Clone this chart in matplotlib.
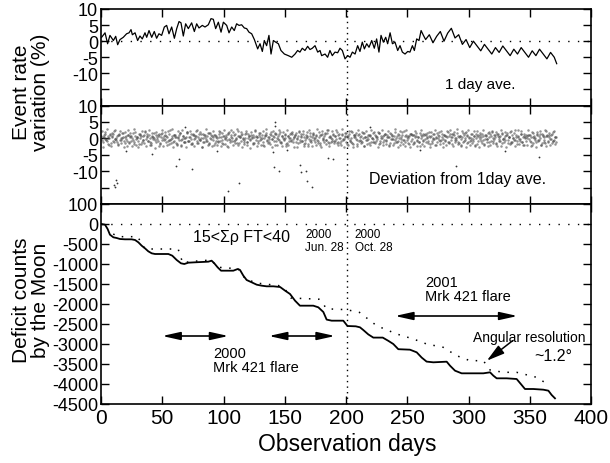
import numpy as np
import matplotlib
matplotlib.use('Agg')
import matplotlib.pyplot as plt

plt.rcParams['font.family'] = ['Liberation Sans', 'DejaVu Sans']

# ---------------- data ----------------
# Top panel: 1 day average event-rate variation (%)
top_days = [0.5,3.3,5.4,7.3,10.1,12.0,13.6,15.5,18.2,20.9,22.9,24.5,25.6,27.8,29.9,31.8,33.7,35.9,37.3,39.2,
            41.4,43.5,45.4,47.3,49.5,51.7,53.6,55.5,57.7,59.9,61.8,63.7,65.3,67.2,69.1,71.3,74.0,76.2,78.1,80.0,
            82.7,84.9,87.6,89.8,91.7,93.6,95.8,98.0,99.9,102.6,104.5,106.7,108.8,110.7,112.7,114.8,117.0,118.9,120.8,123.0,125.2,
            127.9,129.8,131.7,133.3,135.2,137.1,138.8,140.7,142.6,144.8,146.9,149.7,152.9,155.7,158.4,160.5,162.4,164.3,166.5,168.7,
            170.6,172.5,174.7,176.9,178.8,180.1,182.9,185.0,186.9,188.8,191.0,193.2,195.1,197.0,199.2,201.4,203.3,205.2,207.4,209.5,
            211.4,213.3,215.0,216.9,218.8,221.0,223.1,225.0,226.9,228.6,230.5,232.4,234.0,236.0,237.9,240.0,242.2,244.1,246.0,248.2,
            250.4,252.2,254.2,255.8,257.7,259.6,261.3,263.2,
            265,268,271,274,277,280,283,286,289,292,295,298,301,304,307,310,313,316,319,322,325,328,331,334,337,340,
            343,346,349,352,355,358,361,364,367,370,372]
top_vals = [1.2,2.6,-0.8,1.8,0.2,1.5,-1.1,0.5,1.2,2.3,2.6,3.6,2.0,2.6,0.2,1.6,0.7,2.6,1.2,3.3,
            1.2,3.0,0.9,2.3,1.8,4.4,4.9,2.3,4.4,0.9,3.9,6.1,5.7,1.6,5.4,3.9,5.7,3.0,5.4,4.1,
            4.9,4.4,5.1,7.0,6.8,3.9,5.9,2.8,5.9,4.9,2.6,4.4,3.3,5.4,4.9,5.1,4.1,3.9,2.8,2.3,0.5,
            -2.4,-0.8,-3.2,0.2,-1.4,1.8,-4.0,0.2,-0.3,-0.8,-2.9,-4.0,-4.5,-5.0,-4.0,-2.9,-3.4,-2.2,-2.9,-1.6,
            -2.6,-2.2,-1.4,-3.4,-2.9,-4.5,-4.0,-5.0,-2.9,-4.5,-3.4,-3.6,-2.2,-2.9,-5.5,-4.5,-5.0,-3.4,-4.0,-1.4,
            -3.2,-0.3,-2.4,-0.8,-1.9,0.2,-2.2,0.7,-3.4,1.8,-0.3,1.2,-0.8,2.6,-0.8,-0.3,-2.9,-1.4,-3.4,-4.0,
            -3.2,-3.4,-1.4,-2.9,0.7,0.2,3.3,1.8,
            0.5,2.0,-0.5,1.5,3.0,0.0,2.5,4.0,1.0,2.0,-1.0,0.5,-2.0,0.0,-1.5,-3.0,-1.0,-2.5,-4.0,-2.0,-3.5,-1.5,-3.0,-4.5,-2.5,-4.0,
            -2.0,-3.5,-5.0,-3.0,-4.5,-2.5,-4.0,-5.5,-3.5,-5.0,-7.0]

# Middle panel: deviation of each run from the 1-day average (%)
dev_a = [0.8,-1.2,0.3,1.9,-0.6,0.1,-2.1,1.4,0.5,-0.9,2.3,-0.2,0.7,-1.6,1.1,-0.4,0.0,1.7,-1.3,0.6,-2.4,0.9,1.5,-0.7,0.2,-1.1,2.0,-0.3,0.4,-1.8,
 1.2,0.6,-0.5,-1.4,2.2,0.3,-0.8,1.0,-2.0,0.7,-0.1,1.6,-1.2,0.5,0.9,-2.3,1.3,-0.6,0.2,1.8,-1.0,0.4,-1.7,2.4,-0.3,0.8,-0.9,1.1,-1.5,0.0,
 -0.4,1.5,-2.2,0.6,0.1,-1.0,1.9,-0.7,0.3,1.2,-1.8,0.9,-0.2,2.1,-1.4,0.5,-0.6,1.3,-2.5,0.2,1.0,-0.8,0.7,-1.3,1.7,-0.1,0.4,-1.9,1.1,0.6,
 -1.1,0.3,2.0,-0.5,-1.6,0.8,0.2,-2.2,1.4,-0.3,0.9,-0.9,1.8,-0.4,0.1,-1.5,2.3,0.5,-0.7,1.2,-1.2,0.0,1.6,-2.0,0.7,-0.2,1.0,-1.7,0.4,2.2,
 0.3,-1.4,1.1,-0.6,0.9,-2.1,0.2,1.5,-0.8,0.5,-1.0,1.9,-0.3,0.7,-1.9,1.2,0.1,-0.5,2.0,-1.3,0.6,-0.1,1.4,-2.4,0.8,-0.7,0.2,1.7,-1.1,0.4,
 1.0,-0.2,-1.5,2.1,0.4,-0.9,1.3,-1.7,0.0,0.8,-2.3,1.6,-0.5,0.3,1.1,-1.2,0.6,-0.4,1.8,-2.0,0.9,0.2,-1.0,1.4,-0.6,2.5,-1.4,0.5,-0.3,1.2,
 -0.8,0.7,1.9,-1.1,0.2,-2.0,1.0,-0.4,0.6,1.5,-1.6,0.1,-0.7,2.2,-1.3,0.4,0.9,-0.1,-1.8,1.3,0.5,-0.9,1.7,-2.2,0.3,-0.5,1.1,-1.4,0.8,0.0,
 1.6,-1.0,0.4,-0.3,2.0,-1.7,0.7,0.2,-1.2,1.2,-0.6,0.9,-2.1,1.5,-0.2,0.6,-1.5,1.9,0.1,-0.8,1.0,-1.9,0.5,-0.4,2.3,-1.1,0.3,0.8,-1.6,1.4,
 -0.1,0.9,-1.3,1.7,-0.7,0.4,-2.4,1.1,0.6,-0.5,1.4,-1.0,0.2,2.0,-1.6,0.7,-0.3,1.2,-2.0,0.5,0.0,1.8,-0.9,0.3,-1.4,1.0,-0.6,2.2,-1.2,0.8,
 0.5,-1.8,1.3,0.2,-0.6,1.6,-1.1,0.8,-2.2,0.4,1.0,-0.4,1.9,-1.5,0.1,-0.8,1.4,-0.2,0.6,-1.9,2.1,-0.7,0.3,1.1,-1.3,0.7,-2.0,0.9,-0.1,1.5,
 -1.2,0.6,2.0,-0.9,0.3,-1.6,1.2,-0.3,0.8,-2.3,1.7,0.1,-0.6,1.0,-1.4,0.5,1.8,-1.0,0.2,-0.5,2.4,-1.7,0.7,-0.2,1.3,-1.1,0.4,-2.1,0.9,0.0,
 1.1,-0.7,0.5,-1.9,1.6,0.2,-1.2,0.9,-0.4,1.4,-2.0,0.6,0.3,-1.5,2.2,-0.8,1.0,-0.1,-1.3,1.8,-0.6,0.4]
dev_b = [-0.5,0.4,1.1,-0.2,-0.9,0.7,0.0,-1.4,0.6,1.3,-0.3,0.2,-1.0,0.9,-0.6,0.1,1.5,-0.8,0.3,-0.1,1.0,-1.2,0.5,0.8,-0.4,-1.6,0.7,0.2,-0.7,1.2,
 0.1,-1.1,0.6,0.9,-0.3,1.4,-0.8,0.0,-1.5,0.5,0.3,-0.6,1.1,-0.2,0.8,-1.3,0.4,1.6,-0.5,-0.1,0.7,-0.9,1.2,-0.4,0.2,-1.0,0.9,0.5,-1.7,0.3,
 1.0,-0.4,-0.1,0.8,-1.2,0.3,1.7,-0.7,0.5,-0.2,-1.4,1.1,0.0,0.6,-0.8,1.3,-0.5,0.2,-1.1,0.9,0.4,-0.3,1.5,-1.6,0.1,0.7,-0.6,1.0,-0.9,0.2,
 -0.7,1.2,0.3,-1.3,0.6,-0.1,0.9,-0.5,1.6,-1.0,0.4,0.1,-0.8,1.3,-0.3,0.7,-1.5,0.5,1.0,-0.2,-0.6,1.4,-1.1,0.2,0.8,-0.4,0.0,1.1,-1.3,0.6,
 0.4,-0.9,1.5,-0.3,0.1,-1.2,0.7,1.0,-0.6,0.3,-1.7,0.9,-0.1,0.5,1.2,-0.8,-0.2,1.4,-1.0,0.6,0.0,-0.5,1.1,-1.4,0.8,0.2,-0.7,1.3,-0.3,0.5,
 -1.1,0.2,0.8,-0.4,1.3,-0.9,0.5,-1.5,1.0,0.3,-0.2,0.7,-1.2,1.6,-0.6,0.1,0.9,-0.8,0.4,-1.3,1.2,-0.1,0.6,-0.5,1.5,-1.0,0.3,0.0,-0.9,1.1,
 0.7,-0.3,-1.4,1.0,0.2,-0.7,1.4,-0.1,0.5,-1.1,0.8,1.2,-0.5,0.0,-1.6,0.9,0.3,-0.4,1.1,-0.8,0.6,-1.2,0.2,1.5,-0.6,0.4,-0.2,0.9,-1.0,0.1,
 -0.2,1.0,-0.8,0.4,1.6,-1.3,0.1,0.7,-0.5,1.2,-0.9,0.3,0.5,-1.4,1.1,-0.1,0.8,-0.6,-1.1,1.3,0.2,-0.3,0.9,-1.7,0.6,1.0,-0.4,0.0,1.4,-0.7,
 0.9,-1.2,0.3,0.6,-0.4,-1.0,1.5,0.1,-0.7,1.1,-0.2,0.4,-1.5,0.8,0.5,-0.9,1.3,-0.3,0.2,-1.2,1.0,0.6,-0.6,1.4,-0.1,-0.8,0.7,0.3,-1.4,1.2,
 -0.6,0.5,1.1,-1.0,0.0,0.8,-1.3,0.6,-0.2,1.5,-0.7,0.2,0.9,-1.1,0.4,-0.4,1.2,-0.9,0.7,0.1,-1.6,1.0,-0.3,0.5,1.3,-0.5,-0.1,0.8,-1.2,0.3,
 1.3,-0.7,0.2,-0.3,1.0,-1.4,0.6,0.4,-0.8,1.2,-0.1,-1.0,0.7,1.5,-0.6,0.3,-1.3,0.9,0.0,-0.5,1.1,-0.9,0.5,-0.2,1.4,-1.1,0.6,0.2,-0.7,0.8,
 -0.3,1.1,-1.2,0.5,0.2,-0.6,1.3,-0.9,0.7,0.1,-1.5,1.0,-0.4,0.6,0.9,-1.0,0.3,-0.2,1.2,-0.8,0.4,-1.1]
dev_c = [2.1,-2.6,1.4,-0.2,2.7,-1.8,0.9,-2.3,1.7,-1.1,2.5,-0.5,-2.0,1.2,2.2,-1.5,0.4,-2.7,1.9,-0.8,2.4,-1.3,0.6,-2.2,1.6,2.8,-1.9,0.3,-2.5,1.0,
 -1.7,2.3,-0.6,1.8,-2.4,0.8,2.6,-1.2,-2.1,1.5,0.2,-2.8,2.0,-0.9,1.3,-1.6,2.5,-2.2,0.7,1.1,-2.0,2.2,-0.4,-1.4,2.7,-2.6,1.0,0.5,-1.9,2.1,
 1.6,-2.1,2.4,-1.0,0.1,-2.5,1.9,-0.7,2.3,-1.8,1.2,-2.3,0.6,2.6,-1.4,-0.3,2.0,-2.7,1.4,-1.2,2.8,-0.8,-2.0,1.7,0.9,-2.4,2.1,-1.5,0.4,-1.9,
 2.2,-0.9,-2.3,1.5,2.5,-1.6,0.3,-2.6,1.8,-0.4,2.4,-2.0,1.1,-1.3,2.7,-2.1,0.8,1.9,-2.5,0.2,-1.7,2.3,-1.1,1.3,-2.8,2.0,0.5,-1.4,2.6,-0.6,
 -2.2,1.7,0.4,-1.9,2.1,-2.4,1.0,2.8,-1.5,-0.2,1.4,-2.7,2.2,-0.8,1.6,-2.0,0.7,2.5,-1.2,-2.3,1.9,0.0,-1.6,2.4,-2.1,1.2,-0.5,2.0,-2.6,0.9,
 1.5,-2.5,2.0,-1.1,0.6,2.3,-2.2,-0.4,1.8,-1.7,2.6,-0.9,-2.4,1.3,0.2,-2.0,2.7,-1.3,1.1,-2.6,2.1,-0.6,1.6,-1.8,2.4,-2.3,0.8,-1.0,2.2,-1.5,
 -0.7,2.4,-2.1,1.2,-1.5,2.8,-0.3,-2.5,1.7,0.6,-1.9,2.2,-1.2,2.0,-2.7,0.9,1.5,-2.2,2.5,-0.5,-1.4,1.8,-2.4,0.3,2.3,-1.7,1.0,-2.0,2.6,-1.1,
 2.0,-1.3,0.8,-2.6,1.6,-0.7,2.5,-2.0,1.1,-1.6,0.4,2.2,-2.3,1.4,-0.2,-1.9,2.7,-1.0,0.6,-2.5,2.1,-1.2,1.9,-0.6,-2.2,2.4,-1.5,0.7,-2.7,1.3,
 -1.6,1.1,2.3,-2.2,0.5,-1.0,2.6,-1.8,1.3,-2.4,0.9,1.7,-0.8,-2.6,2.0,-1.3,0.2,2.5,-2.0,1.5,-0.4,-1.7,2.2,-2.5,1.0,0.6,-2.1,1.8,-1.1,2.4,
 1.2,-2.3,1.9,-0.6,2.7,-1.6,0.4,-2.0,2.2,-1.2,1.6,-2.6,0.8,2.4,-1.9,0.1,-1.4,2.1,-2.2,1.3,0.7,-2.5,1.7,-0.9,2.5,-1.8,1.0,-0.3,-2.4,2.0,
 -2.0,2.2,-1.3,0.9,1.8,-2.4,1.4,-0.7,2.6,-1.5,-0.2,2.0,-2.7,1.1,0.5,-1.8,2.3,-1.0,1.6,-2.3,0.3,2.5,-1.6,-0.8,2.1,-2.1,1.2,0.4,-1.9,2.4,
 0.9,-2.2,2.0,-1.4,0.6,-2.6,1.8,-0.5,2.3,-1.9,1.3,-1.1,2.6,-2.3,0.7,1.5,-2.0,1.0,-0.9,2.2,-1.6,0.4]
out_days = [11.0,11.4,12.8,12.2,41.4,61.0,63.7,68.6,74.0,103.4,112.7,142.0,142.0,141.5,145.0,140.0,162.7,163.0,
            167.0,168.0,172.5,185.6,189.4,219.6,290.0,357.8,152.0,20.0,95.0,260.0,330.0]
out_vals = [-14.3,-14.9,-13.5,-12.6,-4.8,-8.3,-6.3,3.3,-9.2,-16.0,-13.5,4.9,3.8,-8.6,-9.8,-4.2,-8.1,-10.2,
            -9.9,-13.1,-14.8,-6.0,-6.3,3.3,-8.3,-5.7,-3.6,-3.8,-4.0,-3.5,-4.0]

# Bottom panel: deficit counts by the Moon (solid = observed, dotted = expected)
obs_days = [0,2,3.3,5.4,7.3,10.1,12.8,15.5,19.6,25,27.8,30.5,33.2,35.9,38.6,41.4,44.1,49.5,55,58.2,61.8,65.3,68,71.3,
            76.7,82.2,87.6,90.3,92.5,95.2,98,102.6,108,111.6,113.5,116.2,118.9,123,127.1,131.2,135.2,140.7,146.2,150.3,
            154.3,158.4,162.4,168,173.3,177.4,181.5,184.2,188.3,197.8,201.2,208,211.4,214.1,218.2,222.3,230,234.5,238.6,
            242.7,252.2,257.7,261.8,265.8,271.3,282.2,284.9,289,294.4,301.2,312.1,317.6,320.3,323,331.2,339.3,343.4,
            346.1,352.9,361.1,365.2,367.9,370.6]
obs_vals = [0,-10,-17,-125,-267,-333,-350,-375,-383,-383,-400,-458,-542,-608,-683,-733,-750,-750,-750,-792,-900,-983,-1000,-967,
            -958,-950,-942,-917,-983,-1083,-1167,-1167,-1167,-1125,-1150,-1292,-1400,-1458,-1517,-1542,-1558,-1558,-1575,-1667,
            -1750,-1917,-2042,-2042,-2042,-2083,-2200,-2390,-2417,-2417,-2550,-2558,-2583,-2650,-2760,-2840,-2840,-2920,-3000,
            -3130,-3142,-3208,-3340,-3440,-3458,-3442,-3542,-3667,-3733,-3733,-3733,-3708,-3792,-3858,-3858,-3875,-4025,
            -4125,-4125,-4142,-4167,-4275,-4358]
exp_days = [10,14,30,33,36,63,64.6,67,72,90,95,112,118,128,145,150,155,178,181.5,184,200.5,211,225,241.4,255,265.8,
            279.4,290.3,301.2,312.1,317.6,328.5,339.3,355.6,366.5]
exp_vals = [-250,-317,-317,-483,-625,-625,-792,-983,-940,-900,-1080,-1120,-1380,-1480,-1540,-1620,-1850,-1880,-2000,-2120,
            -2142,-2210,-2542,-2750,-2875,-3000,-3083,-3292,-3417,-3417,-3650,-3708,-3708,-3833,-4042]

x_ticks = [0, 50, 100, 150, 200, 250, 300, 350, 400]
rate_ticks = [10, 5, 0, -5, -10, -15, -20]
rate_labels = ['10', '5', '0', '-5', '-10', '', '']
def_ticks = [500, 0, -500, -1000, -1500, -2000, -2500, -3000, -3500, -4000, -4500]
def_labels = ['100', '0', '-500', '-1000', '-1500', '-2000', '-2500', '-3000', '-3500', '-4000', '-4500']
marker_day = 200.8

# ---------------- figure ----------------
W, H = 610, 464
fig = plt.figure(figsize=(W / 100, H / 100), dpi=100)

def rect(l, t, r, b):
    return [l / W, 1 - b / H, (r - l) / W, (b - t) / H]

ax1 = fig.add_axes(rect(101, 10, 591, 106.5))
ax2 = fig.add_axes(rect(101, 106.5, 591, 205))
ax3 = fig.add_axes(rect(101, 205, 591, 405))

for ax in (ax1, ax2, ax3):
    ax.set_xlim(0, 400)
    ax.set_xticks(x_ticks)
    ax.tick_params(direction='in', top=True, right=True, length=6, width=1.0,
                   labelsize=13, pad=2)
    ax.tick_params(axis='x', labelsize=15, pad=3)
    for s in ax.spines.values():
        s.set_linewidth(1.2)
    ax.axvline(marker_day, color='k', lw=1.0, ls=(0, (1, 3)))

for ax in (ax1, ax2):
    ax.set_ylim(-20, 10)
    ax.set_yticks(rate_ticks)
    ax.set_yticklabels(rate_labels)
    ax.tick_params(labelbottom=False)

ax3.set_ylim(-4500, 500)
ax3.set_yticks(def_ticks)
ax3.set_yticklabels(def_labels)

# top panel
ax1.axhline(0, color='k', lw=1.0, ls=(0, (1, 6)))
ax1.plot(top_days, top_vals, color='k', lw=0.9)
ax1.text(281, -13.3, '1 day ave.', fontsize=11, ha='left', va='center')

# middle panel
xa = np.linspace(0.2, 371.0, len(dev_a))
xb = np.linspace(0.5, 371.4, len(dev_b))
xc = np.linspace(0.8, 371.8, len(dev_c))
for xs, ys in ((xc, dev_c), (xa, dev_a), (xb, dev_b)):
    ax2.plot(xs, ys, 'o', ms=1.8, mew=0, color='0.3', alpha=0.6)
ax2.plot(out_days, out_vals, 'o', ms=1.3, mew=0, color='0.2')
ax2.text(219, -12.3, 'Deviation from 1day ave.', fontsize=11.5, ha='left', va='center')

# bottom panel
ax3.axhline(0, color='k', lw=1.0, ls=(0, (1, 6)))
ax3.plot(exp_days, exp_vals, color='k', lw=1.1, ls=(0, (1, 5)))
ax3.plot(obs_days, obs_vals, color='k', lw=1.3)

ax3.text(75, -325, '15<Σρ FT<40', fontsize=11.5, ha='left', va='center')
ax3.text(166.5, -420, '2000\nJun. 28', fontsize=8.5, ha='left', va='center', linespacing=1.15)
ax3.text(207, -420, '2000\nOct. 28', fontsize=8.5, ha='left', va='center', linespacing=1.15)
ax3.text(91.4, -3400, '2000\nMrk 421 flare', fontsize=10.5, ha='left', va='center', linespacing=1.0)
ax3.text(264.5, -1625, '2001\nMrk 421 flare', fontsize=10.5, ha='left', va='center', linespacing=1.0)
ax3.text(303.7, -2825, 'Angular resolution', fontsize=10, ha='left', va='center')
ax3.text(354, -3300, '~1.2°', fontsize=11.5, ha='left', va='center')

arrow2 = dict(arrowstyle='<|-|>,head_length=0.9,head_width=0.2', color='k', lw=1.2,
              mutation_scale=12, shrinkA=0, shrinkB=0)
ax3.annotate('', xy=(50, -2800), xytext=(104, -2800), arrowprops=arrow2)
ax3.annotate('', xy=(137, -2800), xytext=(191, -2800), arrowprops=arrow2)
ax3.annotate('', xy=(240, -2300), xytext=(340, -2300), arrowprops=arrow2)
ax3.annotate('', xy=(315, -3417), xytext=(336, -2917),
             arrowprops=dict(arrowstyle='-|>,head_length=0.9,head_width=0.25', color='k', lw=1.1,
                             mutation_scale=12, shrinkA=0, shrinkB=0))

# axis labels
fig.text(31 / W, 1 - 92 / H, 'Event rate\nvariation (%)', rotation=90, ha='center', va='center',
         fontsize=15, linespacing=1.0, multialignment='center')
fig.text(31 / W, 1 - 300 / H, 'Deficit counts\nby the Moon', rotation=90, ha='center', va='center',
         fontsize=15, linespacing=1.0, multialignment='center')
fig.text(347 / W, 1 - 445 / H, 'Observation days', ha='center', va='center', fontsize=16.5)

fig.savefig('out.png', dpi=100)
